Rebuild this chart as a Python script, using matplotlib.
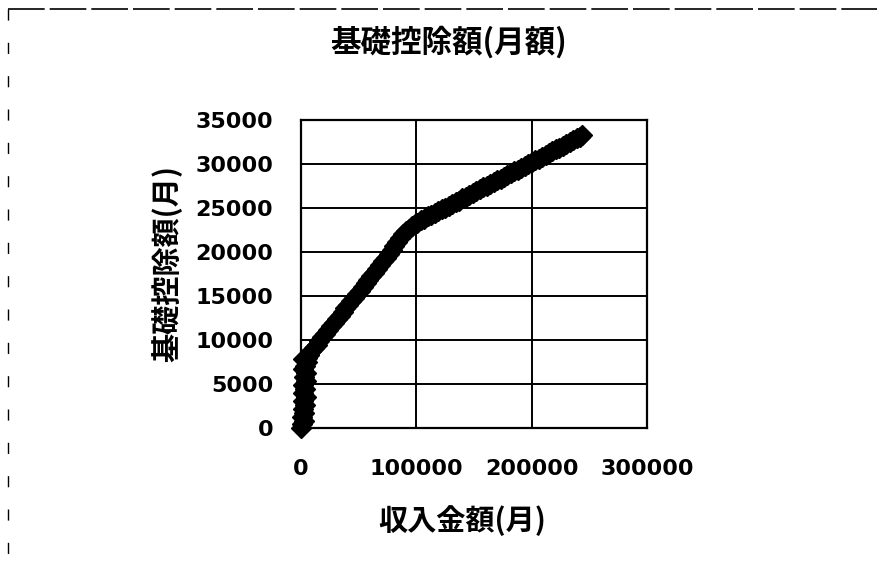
import matplotlib
matplotlib.use("Agg")
import matplotlib.pyplot as plt
from matplotlib.lines import Line2D

plt.rcParams['font.family'] = ['Noto Sans CJK JP', 'DejaVu Sans']

title = "基礎控除額(月額)"
x_label = "収入金額(月)"
y_label = "基礎控除額(月)"

x_ticks = [0, 100000, 200000, 300000]
y_ticks = [0, 5000, 10000, 15000, 20000, 25000, 30000, 35000]

# income (monthly)
income = [
    0, 1200, 2500, 1000, 3000, 1500, 3500, 2000, 4000, 1500, 3500, 2000,
    4500, 2500, 4000, 1500, 3500, 5000, 2000,
    5000, 7000, 9000, 11000, 13500, 16000, 18500, 21000, 23500, 26000,
    28500, 31000, 33500, 36000, 38500, 41000, 43500, 46000, 48500, 51000,
    53500, 56000, 58500, 61000, 63500, 66000, 68500, 71000, 73500, 76000,
    78500, 81000, 83500, 86000, 88500, 91000, 93500, 96000, 98500, 101000,
    104000, 107000, 110000, 113000, 116000, 119000, 122000, 125000, 128000,
    131000, 134000, 137000, 140000, 143000, 146000, 149000, 152000, 155000,
    158000, 161000, 164000, 167000, 170000, 173000, 176000, 179000, 182000,
    185000, 188000, 191000, 194000, 197000, 200000, 203000, 206000, 209000,
    212000, 215000, 218000, 221000, 224000, 227000, 230000, 233000, 236000,
    239000, 242000, 244000,
]
# basic deduction (monthly)
deduction = [
    0, 400, 800, 1300, 1700, 2200, 2600, 3100, 3500, 4000, 4400, 4900,
    5300, 5800, 6200, 6700, 7100, 7500, 7800,
    8000, 8350, 8700, 9050, 9450, 9900, 10300, 10700, 11100, 11550,
    11950, 12350, 12750, 13150, 13600, 14000, 14400, 14800, 15200, 15600,
    16000, 16450, 16850, 17250, 17650, 18100, 18500, 18950, 19350, 19800,
    20250, 20700, 21150, 21600, 22000, 22350, 22650, 22900, 23150, 23350,
    23600, 23800, 24050, 24250, 24450, 24650, 24850, 25050, 25250,
    25450, 25650, 25850, 26100, 26300, 26500, 26700, 26900, 27150,
    27350, 27550, 27750, 27950, 28150, 28350, 28550, 28750, 28950,
    29150, 29350, 29600, 29800, 30000, 30200, 30400, 30600, 30800,
    31000, 31250, 31450, 31650, 31850, 32050, 32300, 32500, 32700,
    32900, 33100, 33300,
]

W, H = 877, 568
fig = plt.figure(figsize=(W / 100, H / 100), dpi=100)
ax = fig.add_axes([301 / W, 1 - 428 / H, (647 - 301) / W, (428 - 120) / H])

ax.plot(income, deduction, linestyle='none', marker='D', markersize=10,
        color='black', markeredgecolor='black', zorder=3, clip_on=False)

ax.set_xlim(0, 300000)
ax.set_ylim(0, 35000)
ax.set_xticks(x_ticks)
ax.set_yticks(y_ticks)
ax.set_xticklabels([str(v) for v in x_ticks])
ax.set_yticklabels([str(v) for v in y_ticks])
ax.grid(True, color='black', linewidth=1.4)
ax.set_axisbelow(True)
for sp in ax.spines.values():
    sp.set_color('black')
    sp.set_linewidth(1.6)
ax.tick_params(axis='both', length=0, labelsize=16)
ax.tick_params(axis='y', pad=20)
ax.tick_params(axis='x', pad=22)
for lbl in ax.get_xticklabels() + ax.get_yticklabels():
    lbl.set_family(['DejaVu Sans'])
    lbl.set_fontweight('bold')

fig.text(449 / W, 1 - 42 / H, title, ha='center', va='center',
         fontsize=22, fontweight='bold')
fig.text(167 / W, 1 - 263 / H, y_label, ha='center', va='center',
         rotation=90, fontsize=21, fontweight='bold')
fig.text(462 / W, 1 - 521 / H, x_label, ha='center', va='center',
         fontsize=21, fontweight='bold')

# dashed frame (top and left edges visible)
fig.add_artist(Line2D([8 / W, 1.0], [1 - 9 / H, 1 - 9 / H],
                      transform=fig.transFigure, color='black',
                      linewidth=1.2, linestyle=(0, (22, 3))))
fig.add_artist(Line2D([8 / W, 8 / W], [1 - 9 / H, 0.0],
                      transform=fig.transFigure, color='black',
                      linewidth=1.0, linestyle=(0, (8, 16))))

fig.savefig("out.png", dpi=100, facecolor='white')
